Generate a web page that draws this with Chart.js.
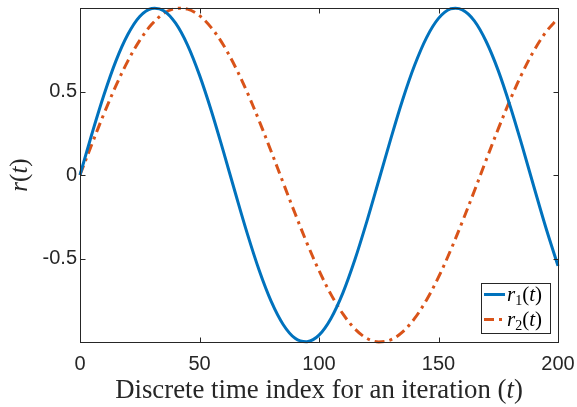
<!DOCTYPE html>
<html><head><meta charset="utf-8">
<script src="https://cdn.jsdelivr.net/npm/chart.js@4/dist/chart.umd.min.js"></script>
<style>html,body{margin:0;padding:0;background:#fff}#wrap{width:577px;height:407px;position:relative}</style>
</head><body><div id="wrap"><canvas id="c" width="577" height="407"></canvas></div>
<script>
const tValues = [0,5,10,15,20,25,30,35,40,45,50,55,60,65,70,75,80,85,90,95,100,105,110,115,120,125,130,135,140,145,150,155,160,165,170,175,180,185,190,195,200];
const r1Values = [0,0.247,0.479,0.682,0.841,0.949,0.997,0.984,0.909,0.778,0.598,0.382,0.141,-0.108,-0.351,-0.572,-0.757,-0.895,-0.978,-0.999,-0.959,-0.859,-0.706,-0.508,-0.279,-0.033,0.215,0.451,0.657,0.823,0.938,0.995,0.989,0.923,0.798,0.625,0.412,0.174,-0.075,-0.319,-0.544];
const r2Values = [0,0.186,0.366,0.533,0.682,0.806,0.902,0.967,0.997,0.993,0.954,0.881,0.778,0.647,0.494,0.323,0.141,-0.046,-0.231,-0.409,-0.572,-0.715,-0.832,-0.921,-0.978,-1.000,-0.987,-0.939,-0.859,-0.748,-0.612,-0.453,-0.279,-0.096,0.092,0.276,0.451,0.609,0.746,0.857,0.938];
const xTicks = [0,50,100,150,200];
const xTickLabels = ['0','50','100','150','200'];
const yTicks = [-0.5,0,0.5];
const yTickLabels = ['-0.5','0','0.5'];
const seriesSymbols = ['r','r'];
const seriesSubscripts = ['1','2'];
const xTitleText = 'Discrete time index for an iteration (';
const yTitleSymbol = 'r';

const BLUE = '#0072BD', ORANGE = '#D95319', AX = '#262626';
const SERIF = '"Liberation Serif","DejaVu Serif",serif';

function pts(ys){ return tValues.map((t,i)=>({x:t,y:ys[i]})); }

function drawParts(ctx, parts, x, y){
  let cx = x;
  for (const p of parts){
    ctx.font = (p[1]?'italic ':'') + p[2] + 'px ' + SERIF;
    ctx.fillText(p[0], cx, y + (p[3]||0));
    cx += ctx.measureText(p[0]).width;
  }
  return cx - x;
}
function widthParts(ctx, parts){
  let w=0;
  for (const p of parts){ ctx.font=(p[1]?'italic ':'')+p[2]+'px '+SERIF; w+=ctx.measureText(p[0]).width; }
  return w;
}

const decor = {
  id:'decor',
  afterDraw(chart){
    const ctx = chart.ctx, a = chart.chartArea, xs = chart.scales.x, ys = chart.scales.y;
    ctx.save();
    ctx.strokeStyle = AX; ctx.lineWidth = 1;
    const L = Math.round(a.left)+0.5, R = Math.round(a.right)+0.5, T = Math.round(a.top)+0.5, B = Math.round(a.bottom)+0.5;
    ctx.beginPath();
    for (const v of xTicks){
      const px = Math.round(xs.getPixelForValue(v))+0.5;
      ctx.moveTo(px,B); ctx.lineTo(px,B-5);
      ctx.moveTo(px,T); ctx.lineTo(px,T+5);
    }
    for (const v of yTicks){
      const py = Math.round(ys.getPixelForValue(v))+0.5;
      ctx.moveTo(L,py); ctx.lineTo(L+5,py);
      ctx.moveTo(R,py); ctx.lineTo(R-5,py);
    }
    ctx.stroke();
    ctx.strokeRect(L,T,R-L,B-T);

    ctx.fillStyle = AX; ctx.textBaseline = 'alphabetic';
    let fs = 21;
    let parts = [[xTitleText,false,fs],['t',true,fs],[')',false,fs]];
    let w = widthParts(ctx, parts);
    fs = fs * 408 / w;
    parts = [[xTitleText,false,fs],['t',true,fs],[')',false,fs]];
    w = widthParts(ctx, parts);
    drawParts(ctx, parts, (a.left+a.right)/2 - w/2, 398);

    const yfs = 25;
    const yparts = [[yTitleSymbol,true,yfs],['(',false,yfs],['t',true,yfs],[')',false,yfs]];
    const yw = widthParts(ctx, yparts);
    ctx.save();
    ctx.translate(27, (a.top+a.bottom)/2);
    ctx.rotate(-Math.PI/2);
    drawParts(ctx, yparts, -yw/2, 0);
    ctx.restore();

    const bx = 481.5, by = 283.5, bw = 69, bh = 50;
    ctx.fillStyle = '#fff'; ctx.fillRect(bx,by,bw,bh);
    ctx.strokeStyle = AX; ctx.lineWidth = 1; ctx.strokeRect(bx,by,bw,bh);
    const ds = chart.data.datasets;
    const rows = [294.5, 319.5];
    for (let i=0;i<2;i++){
      ctx.strokeStyle = ds[i].borderColor; ctx.lineWidth = 3;
      ctx.setLineDash(ds[i].borderDash || []);
      ctx.beginPath(); ctx.moveTo(484, rows[i]); ctx.lineTo(505, rows[i]); ctx.stroke();
      ctx.setLineDash([]);
      ctx.fillStyle = '#000';
      drawParts(ctx, [[seriesSymbols[i],true,21],[seriesSubscripts[i],false,14,4],['(',false,21],['t',true,21],[')',false,21]], 507, rows[i]+6);
    }
    ctx.restore();
  }
};

new Chart(document.getElementById('c'), {
  type:'line',
  data:{ datasets:[
    {label:'r1(t)', data:pts(r1Values), borderColor:BLUE, borderWidth:3, pointRadius:0, tension:0.35, fill:false, clip:6},
    {label:'r2(t)', data:pts(r2Values), borderColor:ORANGE, borderWidth:3, borderDash:[10,5,3,5], pointRadius:0, tension:0.35, fill:false, clip:6}
  ]},
  options:{
    responsive:false, animation:false, devicePixelRatio:1,
    layout:{padding:{top:8,right:19,left:0,bottom:0}},
    plugins:{legend:{display:false}, tooltip:{enabled:false}},
    scales:{
      x:{type:'linear', min:0, max:200,
        afterBuildTicks(s){ s.ticks = xTicks.map(v=>({value:v})); },
        afterFit(s){ s.height = 65; s.paddingLeft = 0; s.paddingRight = 0; },
        grid:{display:false, drawTicks:false}, border:{display:false},
        ticks:{padding:10, color:AX, font:{family:'"Liberation Sans",Arial,sans-serif', size:20}, maxRotation:0,
          callback(v){ const i = xTicks.indexOf(v); return i>=0 ? xTickLabels[i] : ''; }}
      },
      y:{type:'linear', min:-1, max:1,
        afterBuildTicks(s){ s.ticks = yTicks.map(v=>({value:v})); },
        afterFit(s){ s.width = 80; s.paddingTop = 0; s.paddingBottom = 0; },
        grid:{display:false, drawTicks:false}, border:{display:false},
        ticks:{padding:3, color:AX, font:{family:'"Liberation Sans",Arial,sans-serif', size:20},
          callback(v){ const i = yTicks.indexOf(v); return i>=0 ? yTickLabels[i] : ''; }}
      }
    }
  },
  plugins:[decor]
});
</script></body></html>
